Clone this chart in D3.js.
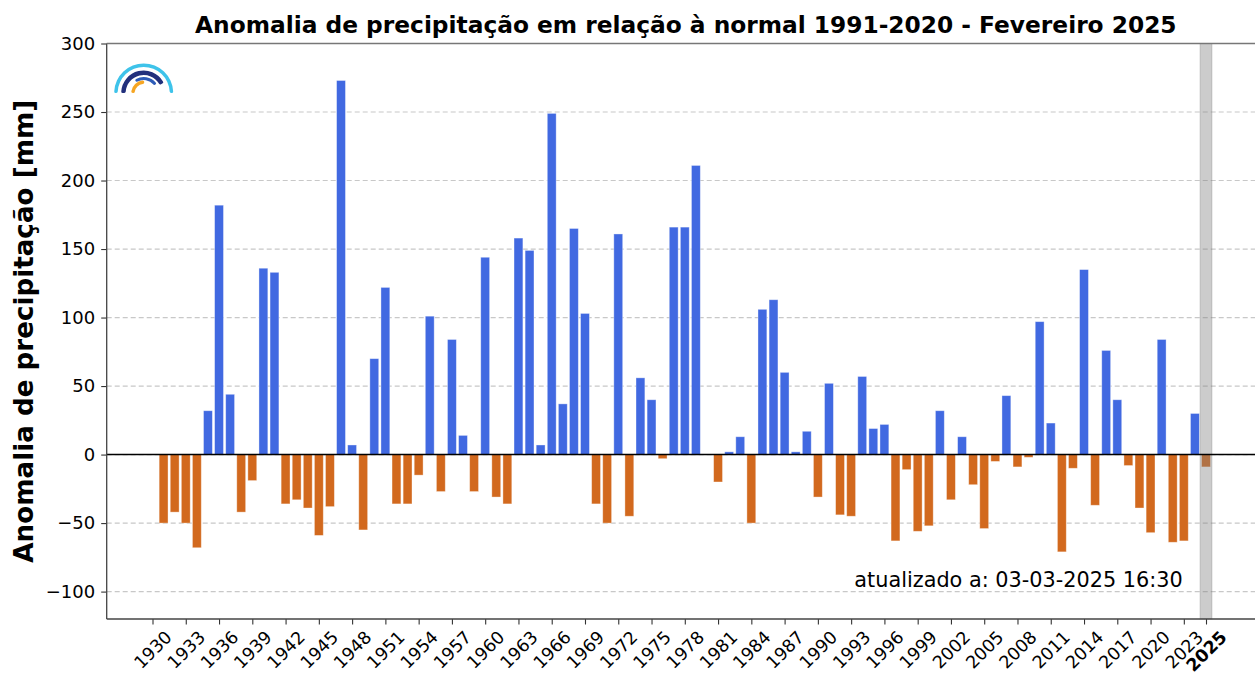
<!DOCTYPE html>
<html>
<head>
<meta charset="utf-8">
<script src="https://cdn.jsdelivr.net/npm/d3@7"></script>
<style>
  body { margin: 0; background: #fff; }
  svg { display: block; font-family: "DejaVu Sans", sans-serif; }
</style>
</head>
<body>
<div id="chart"></div>
<script>
// Fevereiro anomalies (mm) vs 1991-2020 normal, one value per year (null = no bar)
const years = d3.range(1930, 2026);
const anomalies = [
  null, -50, -42, -50, -68, 32, 182, 44, -42, -19,      // 1930-1939
  136, 133, -36, -33, -39, -59, -38, 273, 7, -55,       // 1940-1949
  70, 122, -36, -36, -15, 101, -27, 84, 14, -27,        // 1950-1959
  144, -31, -36, 158, 149, 7, 249, 37, 165, 103,        // 1960-1969
  -36, -50, 161, -45, 56, 40, -3, 166, 166, 211,        // 1970-1979
  null, -20, 2, 13, -50, 106, 113, 60, 2, 17,           // 1980-1989
  -31, 52, -44, -45, 57, 19, 22, -63, -11, -56,         // 1990-1999
  -52, 32, -33, 13, -22, -54, -5, 43, -9, -2,           // 2000-2009
  97, 23, -71, -10, 135, -37, 76, 40, -8, -39,          // 2010-2019
  -57, 84, -64, -63, 30, -9                             // 2020-2025
];
const xTicks = d3.range(1930, 2024, 3).concat([2025]);
const yTicks = [-100, -50, 0, 50, 100, 150, 200, 250, 300];
const currentYear = 2025;

const titleText = "Anomalia de precipitação em relação à normal 1991-2020 - Fevereiro 2025";
const yLabelText = "Anomalia de precipitação [mm]";
const updatedText = "atualizado a: 03-03-2025 16:30";

const width = 1255, height = 675;
const margin = { top: 43.5, right: -10, bottom: 56, left: 106.7 };
const plotW = width - margin.left - margin.right;
const plotH = height - margin.top - margin.bottom;

const data = years.map((y, i) => ({ year: y, value: anomalies[i] }))
  .filter(d => d.value !== null);

const svg = d3.select("#chart").append("svg")
  .attr("width", width)
  .attr("height", height);

const g = svg.append("g")
  .attr("transform", `translate(${margin.left},${margin.top})`);

// scales
const x = d3.scaleLinear().domain([1925.87, 2030.32]).range([0, plotW]);
const y = d3.scaleLinear().domain([-120, 300]).range([plotH, 0]);
const barW = x(1930.8) - x(1930);

// grid
g.append("g")
  .selectAll("line")
  .data(yTicks)
  .join("line")
  .attr("x1", 0).attr("x2", plotW)
  .attr("y1", d => y(d)).attr("y2", d => y(d))
  .attr("stroke", "#c8c8c8")
  .attr("stroke-width", 1.2)
  .attr("stroke-dasharray", "5,3");

// bars
g.append("g")
  .selectAll("rect")
  .data(data)
  .join("rect")
  .attr("x", d => x(d.year) - barW / 2)
  .attr("y", d => y(Math.max(0, d.value)))
  .attr("width", barW)
  .attr("height", d => Math.abs(y(d.value) - y(0)))
  .attr("fill", d => d.value >= 0 ? "royalblue" : "chocolate")
  .attr("stroke", "#fff")
  .attr("stroke-opacity", 0.45)
  .attr("stroke-width", 0.8);

// highlight band for current year
g.append("rect")
  .attr("x", x(currentYear - 0.54))
  .attr("y", 0)
  .attr("width", x(currentYear + 0.54) - x(currentYear - 0.54))
  .attr("height", plotH)
  .attr("fill", "#808080")
  .attr("fill-opacity", 0.4)
  .attr("stroke", "#808080")
  .attr("stroke-opacity", 0.3)
  .attr("stroke-width", 1);

// zero line
g.append("line")
  .attr("x1", 0).attr("x2", plotW)
  .attr("y1", y(0)).attr("y2", y(0))
  .attr("stroke", "#000")
  .attr("stroke-width", 1.6);

// y axis
const yAxis = g.append("g")
  .call(d3.axisLeft(y).tickValues(yTicks).tickSize(5.5).tickPadding(6)
    .tickFormat(d => d < 0 ? "\u2212" + Math.abs(d) : d));
yAxis.select(".domain").remove();
yAxis.selectAll("line").attr("stroke", "#333").attr("stroke-width", 1.1);
yAxis.selectAll("text")
  .attr("font-size", 18)
  .attr("fill", "#000")
  .attr("font-family", "DejaVu Sans");

// x axis
const xFont = 17.5;
const xAxis = g.append("g")
  .attr("transform", `translate(0,${plotH})`)
  .call(d3.axisBottom(x).tickValues(xTicks).tickSize(5.5).tickFormat(d3.format("d")));
xAxis.select(".domain").remove();
xAxis.selectAll("line").attr("stroke", "#333").attr("stroke-width", 1.1);
xAxis.selectAll("text")
  .attr("font-size", xFont)
  .attr("fill", "#000")
  .attr("font-family", "DejaVu Sans")
  .attr("font-weight", d => d === currentYear ? "bold" : "normal")
  .attr("text-anchor", "middle")
  .attr("dy", null)
  .attr("dominant-baseline", "central")
  .each(function () {
    // rotated box centred under the tick, like matplotlib rotation=45
    const len = this.getComputedTextLength();
    const half = (len + xFont * 1.15) / 2 * Math.SQRT1_2;
    const cy = 5.5 + 2.5 + half;
    d3.select(this)
      .attr("x", 0)
      .attr("y", cy)
      .attr("transform", `rotate(-45,0,${cy})`);
  });

// spines
const spine = g.append("g").attr("stroke", "#444").attr("stroke-width", 1.3).attr("fill", "none");
spine.append("line").attr("x1", 0).attr("x2", 0).attr("y1", 0).attr("y2", plotH);
spine.append("line").attr("x1", 0).attr("x2", plotW).attr("y1", plotH).attr("y2", plotH);
spine.append("line").attr("x1", 0).attr("x2", plotW).attr("y1", 0).attr("y2", 0).attr("stroke", "#777");

// title
svg.append("text")
  .attr("x", margin.left + plotW / 2)
  .attr("y", 33)
  .attr("text-anchor", "middle")
  .attr("font-size", 23.3)
  .attr("font-weight", "bold")
  .text(titleText);

// y label
svg.append("text")
  .attr("transform", `translate(33,${margin.top + plotH / 2}) rotate(-90)`)
  .attr("text-anchor", "middle")
  .attr("font-size", 26.2)
  .attr("font-weight", "bold")
  .text(yLabelText);

// update note
g.append("text")
  .attr("x", x(2022.9))
  .attr("y", y(-97))
  .attr("text-anchor", "end")
  .attr("font-size", 20.8)
  .text(updatedText);

// logo (approximation of the arcs in the top-left corner)
const logo = svg.append("g").attr("transform", "translate(143.7,93)");
const arc = d3.arc().cornerRadius(1.5);
const logoArcs = [
  { r0: 26, r1: 29.5, a0: -Math.PI / 2, a1: Math.PI / 2, color: "#3ec3ea" },
  { r0: 18, r1: 22.5, a0: -Math.PI / 2, a1: 1.1, color: "#22307c" },
  { r0: 13, r1: 16, a0: -0.6, a1: 0.95, color: "#2e5cb8" },
  { r0: 9, r1: 12.5, a0: -Math.PI / 2, a1: 0.05, color: "#f6a623" }
];
logo.selectAll("path")
  .data(logoArcs)
  .join("path")
  .attr("d", d => arc({ innerRadius: d.r0, outerRadius: d.r1, startAngle: d.a0, endAngle: d.a1 }))
  .attr("fill", d => d.color);
</script>
</body>
</html>
